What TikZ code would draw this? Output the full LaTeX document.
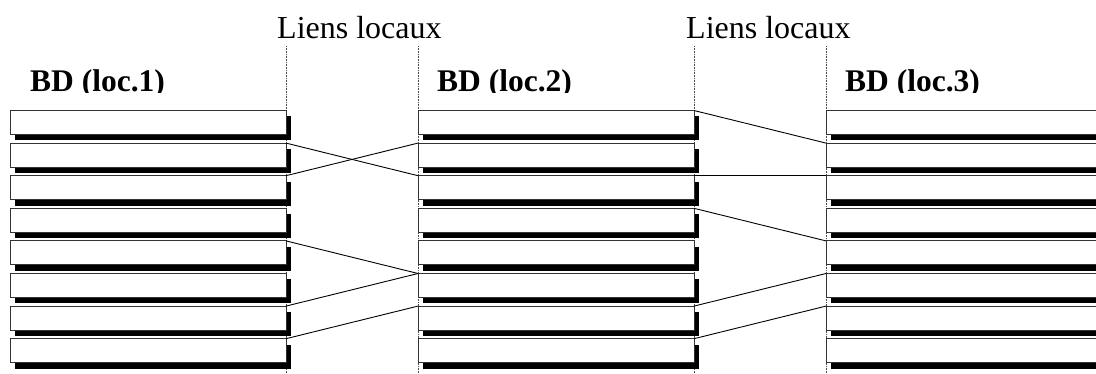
\documentclass[tikz,border=0pt]{standalone}
\usepackage{fontspec}
\setmainfont{Liberation Serif}
\usepackage{tikz}
\usetikzlibrary{shadows}
\tikzset{tablebox/.style = {draw=black!80, fill=white, line width=0.8pt,
                            minimum width=276pt, minimum height=24pt,
                            inner sep=0pt, outer sep=0pt, anchor=north west,
                            drop shadow={shadow xshift=5pt, shadow yshift=-6pt,
                                         fill=black, opacity=1}},
         guide/.style = {densely dotted, line width=0.6pt, black!70},
         link/.style = {line width=0.9pt},
         caption/.style = {anchor=base west, inner sep=0pt,
                           font=\fontsize{32}{38}\selectfont},
         sitename/.style = {caption, font=\fontsize{31.5}{38}\selectfont\bfseries}}

\begin{document}
\begin{tikzpicture}[x=1pt, y=-1pt]
    \clip (0, 0) rectangle (1096, 374);

    \node [caption] (liens1) at (277, 39) {Liens locaux};
    \node [caption] (liens2) at (686, 39) {Liens locaux};

    \begin{scope}
      \clip (0, 0) rectangle (1096, 92.5);
      \node [sitename] (site1) at (30, 92) {BD (loc.1)};
      \node [sitename] (site2) at (437, 92) {BD (loc.2)};
      \node [sitename] (site3) at (845, 92) {BD (loc.3)};
    \end{scope}

    \foreach \x/\g in {286/g1, 418/g2, 694/g3, 826/g4} {
      \coordinate (\g top) at (\x, 46);
      \coordinate (\g bot) at (\x, 374);
      \draw [guide] (\g top) -- (\g bot);
    }

    \foreach \i in {1,...,8} {
      \node [tablebox] (a\i) at (10, 110.5 + 32.6*\i - 32.6) {};
      \node [tablebox] (b\i) at (418, 110.5 + 32.6*\i - 32.6) {};
      \node [tablebox] (c\i) at (826, 110.5 + 32.6*\i - 32.6) {};
    }

    \foreach \s/\t in {a2/b3, a3/b2, a5/b6, a7/b6, a8/b7,
                       b1/c2, b3/c3, b4/c5, b7/c6, b8/c7} {
      \draw [link] (\s.north east) -- (\t.north west);
    }
\end{tikzpicture}
\end{document}
